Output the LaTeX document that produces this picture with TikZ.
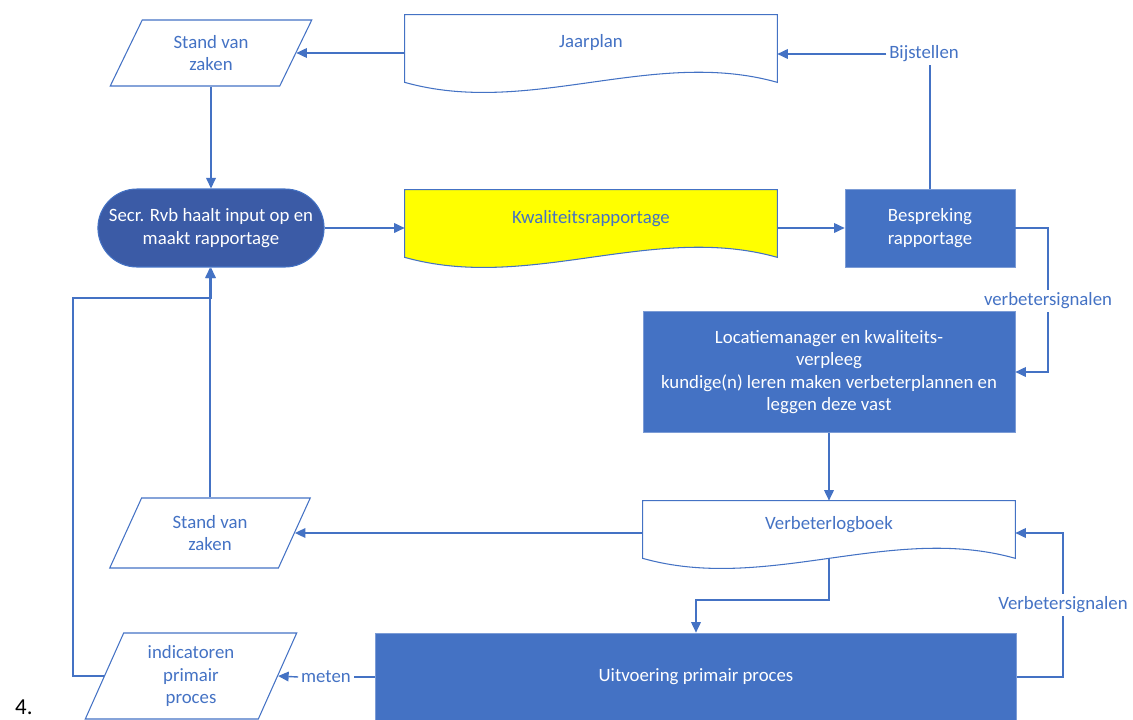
\documentclass[tikz,border=0pt]{standalone}
\usepackage{fontspec}
\setmainfont{Carlito}
\usepackage{tikz}
\usetikzlibrary{shapes.geometric,shapes.misc,arrows.meta,positioning,calc,backgrounds}
\definecolor{officeblue}{RGB}{68,114,196}
\definecolor{darkblue}{RGB}{59,91,166}
\definecolor{docyellow}{RGB}{255,255,0}
\tikzset{
  txt/.style={font=\fontsize{10.7}{12.8}\selectfont, text=officeblue, align=center},
  datashape/.style={txt, trapezium, trapezium stretches=true, trapezium left angle=64, trapezium right angle=116, draw=officeblue, line width=0.6pt, inner sep=0pt},
  docshape/.style={txt, rectangle, minimum width=7.44cm, minimum height=1.34cm, text depth=8pt},
  docline/.style={draw=officeblue, line width=0.6pt},
  procbox/.style={txt, rectangle, fill=officeblue, text=white, draw=officeblue!70!white, line width=0.4pt},
  termbox/.style={txt, rounded rectangle, fill=darkblue, text=white, draw=officeblue, line width=0.6pt},
  arrow/.style={-{Triangle[length=6pt,width=5.5pt]}, officeblue, line width=0.8pt},
  link/.style={officeblue, line width=0.8pt},
  flowlabel/.style={txt, inner sep=1.5pt},
}

\begin{document}
\begin{tikzpicture}[x=0.02cm, y=-0.02cm]
  \useasboundingbox (0,0) rectangle (1133,720);

  % top row
  \node[datashape, minimum width=4.04cm, minimum height=1.32cm] (svztop) at (211,53) {Stand van\\zaken};
  \node[docshape] (jaarplan) at (591,48.5) {Jaarplan};
  \node[flowlabel] (bijstellen) at (924,54) {Bijstellen};

  % reporting row
  \node[termbox, minimum width=4.36cm, minimum height=1.56cm] (secr) at (211,228) {Secr. Rvb haalt input op en\\maakt rapportage};
  \node[docshape] (rapportage) at (591,223.5) {Kwaliteitsrapportage};
  \node[procbox, minimum width=3.4cm, minimum height=1.56cm] (bespreking) at (930,228) {Bespreking\\rapportage};

  % improvement plans
  \node[flowlabel] (signalen) at (1048,301) {verbetersignalen};
  \node[procbox, minimum width=7.44cm, minimum height=2.42cm] (locatie) at (829,372) {Locatiemanager en kwaliteits-\\verpleeg\\kundige(n) leren maken verbeterplannen en\\leggen deze vast};
  \node[docshape, minimum height=1.14cm] (logboek) at (829,529.5) {Verbeterlogboek};
  \node[datashape, minimum width=4.02cm, minimum height=1.4cm] (svzlow) at (210,533) {Stand van\\zaken};

  % primary process
  \node[procbox, minimum width=12.82cm, minimum height=1.76cm] (uitvoering) at (696,677) {Uitvoering primair proces};
  \node[flowlabel] (signalen2) at (1063,605) {Verbetersignalen};
  \node[flowlabel] (meten) at (326,677) {meten};
  \node[datashape, trapezium left angle=68, trapezium right angle=112, minimum width=4.24cm, minimum height=1.72cm] (indicatoren) at (191,676) {indicatoren\\primair\\proces};
  \node[anchor=base west, font=\fontsize{13}{15}\selectfont] (nummer) at (9,714) {4.};

  % document outlines with wavy bottom
  \begin{scope}[on background layer]
    \foreach \doc/\col in {jaarplan/white, rapportage/docyellow, logboek/white}
      \draw[docline, fill=\col] (\doc.north west) -- (\doc.north east) -- (\doc.south east)
        .. controls ($(\doc.south east)+(-124,-35)$) and ($(\doc.south west)+(124,35)$) .. (\doc.south west) -- cycle;
  \end{scope}

  \coordinate (jog) at (696,600);
  \coordinate (loopleft) at (73,298);

  % connectors
  \draw[arrow] (jaarplan.west |- svztop.east) -- (svztop.east);
  \draw[arrow] (svztop.south) -- (svztop.south |- secr.north);
  \draw[arrow] (secr.east) -- (secr.east -| rapportage.west);
  \draw[arrow] (rapportage.east |- bespreking.west) -- (bespreking.west);
  \draw[link] (bespreking.north) -- (bespreking.north |- bijstellen.south);
  \draw[arrow] (bijstellen.west) -- (bijstellen.west -| jaarplan.east);
  \draw[link] (bespreking.east) -| (signalen.north);
  \draw[arrow] (signalen.south) |- (locatie.east);
  \draw[arrow] (locatie.south) -- (logboek.north);
  \draw[arrow] (logboek.west |- svzlow.east) -- (svzlow.east);
  \draw[arrow] (svzlow.north) -- (svzlow.north |- secr.south);
  \draw[arrow] (logboek.south) |- (jog) -- (jog |- uitvoering.north);
  \draw[link] (uitvoering.east) -| (signalen2.south);
  \draw[arrow] (signalen2.north) |- (logboek.east |- svzlow.east);
  \draw[link] (uitvoering.west) -- (meten.east);
  \draw[arrow] (meten.west) -- (indicatoren.east);
  \draw[arrow] (indicatoren.west) -| (loopleft) -- (loopleft -| secr.south) -- (secr.south);

\end{tikzpicture}
\end{document}
